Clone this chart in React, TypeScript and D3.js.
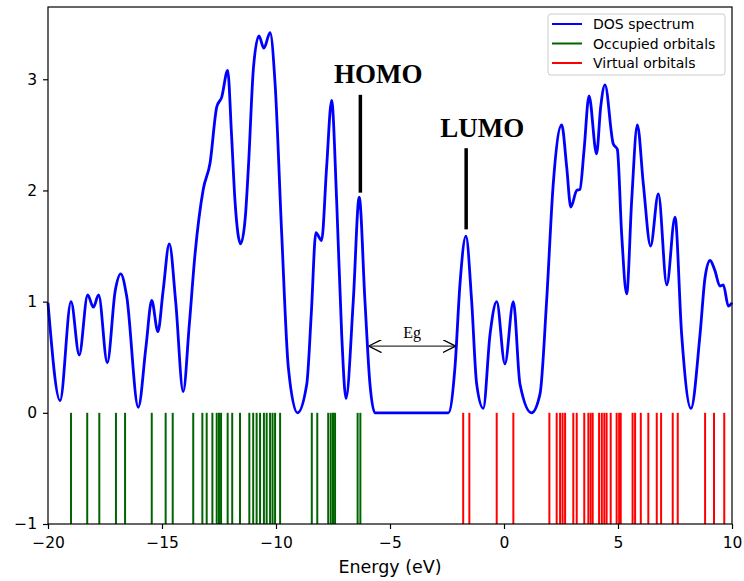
import React, { useEffect, useRef } from "react";
import * as d3 from "d3";

// DOS curve (energy in eV, density)
const dosEnergy = [
  -20, -19.47, -18.99, -18.63, -18.26, -18.01, -17.78, -17.4, -17.05, -16.81, -16.55,
  -16.04, -15.7, -15.45, -15.18, -14.95, -14.68, -14.4, -14.07, -13.8, -13.55, -13.19,
  -12.89, -12.6, -12.38, -12.12, -11.95, -11.8, -11.55, -11.35, -11.21, -10.99, -10.75,
  -10.53, -10.26, -10.04, -9.75, -9.46, -9.06, -8.65, -8.45, -8.25, -8.0, -7.78, -7.56,
  -7.34, -7.12, -6.93, -6.61, -6.35, -6.1, -5.88, -5.66, -5.3, -3.0, -2.44, -2.15, -1.93,
  -1.67, -1.42, -1.2, -0.91, -0.61, -0.32, 0.04, 0.41, 0.7, 1.21, 1.58, 1.87, 2.16, 2.53,
  2.75, 2.93, 3.19, 3.33, 3.51, 3.73, 4.06, 4.24, 4.43, 4.79, 4.97, 5.16, 5.38, 5.6, 5.85,
  6.11, 6.43, 6.77, 7.14, 7.5, 7.79, 8.2, 8.6, 8.82, 9.04, 9.25, 9.47, 9.62, 9.84, 10,
];
const dosValue = [
  0.99, 0.11, 1.0, 0.52, 1.06, 0.95, 1.06, 0.45, 1.1, 1.25, 1.05,
  0.05, 0.6, 1.01, 0.73, 1.1, 1.52, 1.0, 0.19, 0.8, 1.43, 2.01,
  2.25, 2.75, 2.84, 3.08, 2.5, 1.91, 1.52, 1.75, 2.21, 3.1, 3.39,
  3.28, 3.42, 2.96, 1.61, 0.41, 0.0, 0.26, 0.9, 1.62, 1.55, 2.21, 2.81,
  1.91, 0.71, 0.13, 1.01, 1.94, 1.01, 0.26, 0.0, 0.0, 0.0, 0.0, 0.41, 1.16,
  1.59, 1.01, 0.26, 0.04, 0.71, 1.0, 0.44, 1.0, 0.26, 0.0, 0.17, 1.01, 2.06, 2.59,
  2.21, 1.85, 2.0, 2.01, 2.36, 2.85, 2.33, 2.75, 2.95, 2.42, 2.37, 1.61, 1.07, 1.91, 2.59,
  2.06, 1.5, 1.97, 1.15, 1.76, 0.71, 0.04, 0.71, 1.22, 1.37, 1.28, 1.14, 1.15, 0.96, 0.99,
];

const occupied = [
  -18.99, -18.28, -17.75, -17.02, -16.62, -15.45, -14.84, -14.53, -13.63, -13.23, -13.04,
  -12.79, -12.6, -12.5, -12.41, -12.12, -11.92, -11.58, -11.17, -11.0, -10.85, -10.7,
  -10.53, -10.41, -10.26, -10.15, -10.04, -9.82, -8.43, -8.19, -7.71, -7.6, -7.5, -7.41,
  -6.42, -6.3,
];
const virtual = [
  -1.79, -1.52, -0.32, 0.41, 1.99, 2.31, 2.46, 2.57, 2.68, 3.04, 3.19, 3.52, 3.7, 3.8,
  3.89, 4.17, 4.29, 4.4, 4.5, 4.68, 4.94, 5.05, 5.12, 5.64, 5.75, 6.0, 6.33, 6.7, 6.89,
  7.4, 7.62, 8.82, 9.21, 9.66,
];

const xTicks = [-20, -15, -10, -5, 0, 5, 10];
const yTicks = [-1, 0, 1, 2, 3];
const legendItems = [
  { label: "DOS spectrum", color: "#0000ff" },
  { label: "Occupied orbitals", color: "#006400" },
  { label: "Virtual orbitals", color: "#ff0000" },
];

const homo = { energy: -6.3, top: 2.86, bottom: 1.98 };
const lumo = { energy: -1.66, top: 2.38, bottom: 1.65 };
const gap = { from: -5.94, to: -2.12, level: 0.6 };

export default function App() {
  const ref = useRef<SVGSVGElement | null>(null);

  useEffect(() => {
    const svg = d3.select(ref.current);
    svg.selectAll("*").remove();

    const width = 744;
    const height = 581;
    const margin = { top: 7, right: 12, bottom: 57, left: 48 };

    const x = d3.scaleLinear().domain([-20, 10]).range([margin.left, width - margin.right]);
    const y = d3.scaleLinear().domain([-1, 3.65]).range([height - margin.bottom, margin.top]);

    const font = "DejaVu Sans, sans-serif";
    const serif = "Liberation Serif, Times New Roman, serif";

    const defs = svg.append("defs");
    defs
      .append("marker")
      .attr("id", "arrow")
      .attr("viewBox", "0 0 10 10")
      .attr("refX", 10)
      .attr("refY", 5)
      .attr("markerWidth", 13)
      .attr("markerHeight", 13)
      .attr("markerUnits", "userSpaceOnUse")
      .attr("orient", "auto-start-reverse")
      .append("path")
      .attr("d", "M0,0 L10,5 L0,10")
      .attr("fill", "none")
      .attr("stroke", "#000")
      .attr("stroke-width", 1);

    // orbital sticks
    svg
      .append("g")
      .selectAll("line")
      .data(occupied)
      .join("line")
      .attr("x1", (d) => x(d))
      .attr("x2", (d) => x(d))
      .attr("y1", y(0))
      .attr("y2", y(-1))
      .attr("stroke", "#006400")
      .attr("stroke-width", 2);

    svg
      .append("g")
      .selectAll("line")
      .data(virtual)
      .join("line")
      .attr("x1", (d) => x(d))
      .attr("x2", (d) => x(d))
      .attr("y1", y(0))
      .attr("y2", y(-1))
      .attr("stroke", "#ff0000")
      .attr("stroke-width", 2);

    // DOS curve
    const pts = dosEnergy.map((e, i) => [e, dosValue[i]] as [number, number]);
    const line = d3
      .line<[number, number]>()
      .x((d) => x(d[0]))
      .y((d) => y(d[1]))
      .curve(d3.curveMonotoneX);
    svg
      .append("path")
      .datum(pts)
      .attr("d", line)
      .attr("fill", "none")
      .attr("stroke", "#0000ff")
      .attr("stroke-width", 2.8);

    // frame
    svg
      .append("rect")
      .attr("x", margin.left)
      .attr("y", margin.top)
      .attr("width", width - margin.left - margin.right)
      .attr("height", height - margin.top - margin.bottom)
      .attr("fill", "none")
      .attr("stroke", "#000")
      .attr("stroke-width", 1.2);

    // axes
    const xAxis = svg
      .append("g")
      .attr("transform", `translate(0,${height - margin.bottom})`)
      .call(d3.axisBottom(x).tickValues(xTicks).tickSize(5).tickPadding(8).tickFormat(d3.format("")));
    const yAxis = svg
      .append("g")
      .attr("transform", `translate(${margin.left},0)`)
      .call(d3.axisLeft(y).tickValues(yTicks).tickSize(5).tickPadding(6).tickFormat(d3.format("")));
    [xAxis, yAxis].forEach((a) => {
      a.select(".domain").remove();
      a.selectAll("line").attr("stroke", "#000").attr("stroke-width", 1.2);
      a.selectAll("text")
        .attr("fill", "#000")
        .style("font-family", font)
        .style("font-size", "15.5px");
    });

    svg
      .append("text")
      .attr("x", (x(-20) + x(10)) / 2)
      .attr("y", 573)
      .attr("text-anchor", "middle")
      .style("font-family", font)
      .style("font-size", "17.5px")
      .text("Energy (eV)");

    // HOMO / LUMO markers
    svg
      .append("line")
      .attr("x1", x(homo.energy))
      .attr("x2", x(homo.energy))
      .attr("y1", y(homo.top))
      .attr("y2", y(homo.bottom))
      .attr("stroke", "#000")
      .attr("stroke-width", 3.5);
    svg
      .append("text")
      .attr("x", x(homo.energy) + 18)
      .attr("y", 83)
      .attr("text-anchor", "middle")
      .style("font-family", serif)
      .style("font-weight", "bold")
      .style("font-size", "27px")
      .text("HOMO");

    svg
      .append("line")
      .attr("x1", x(lumo.energy))
      .attr("x2", x(lumo.energy))
      .attr("y1", y(lumo.top))
      .attr("y2", y(lumo.bottom))
      .attr("stroke", "#000")
      .attr("stroke-width", 3.5);
    svg
      .append("text")
      .attr("x", x(lumo.energy) + 16)
      .attr("y", 137)
      .attr("text-anchor", "middle")
      .style("font-family", serif)
      .style("font-weight", "bold")
      .style("font-size", "27px")
      .text("LUMO");

    // band gap arrow
    svg
      .append("line")
      .attr("x1", x(gap.from))
      .attr("x2", x(gap.to))
      .attr("y1", y(gap.level))
      .attr("y2", y(gap.level))
      .attr("stroke", "#000")
      .attr("stroke-width", 1)
      .attr("marker-start", "url(#arrow)")
      .attr("marker-end", "url(#arrow)");
    svg
      .append("text")
      .attr("x", (x(gap.from) + x(gap.to)) / 2)
      .attr("y", y(gap.level) - 8)
      .attr("text-anchor", "middle")
      .style("font-family", serif)
      .style("font-size", "16px")
      .text("Eg");

    // legend
    const lg = svg.append("g").attr("transform", "translate(548,14)");
    lg.append("rect")
      .attr("width", 177)
      .attr("height", 61)
      .attr("rx", 3)
      .attr("fill", "#fff")
      .attr("stroke", "#ccc")
      .attr("stroke-width", 1);
    legendItems.forEach((it, i) => {
      const row = lg.append("g").attr("transform", `translate(0,${10 + i * 19.5})`);
      row
        .append("line")
        .attr("x1", 4)
        .attr("x2", 34)
        .attr("stroke", it.color)
        .attr("stroke-width", 2);
      row
        .append("text")
        .attr("x", 45)
        .attr("y", 5)
        .style("font-family", font)
        .style("font-size", "14px")
        .text(it.label);
    });
  }, []);

  return (
    <svg
      ref={ref}
      width={744}
      height={581}
      style={{ position: "absolute", left: 0, top: 0, background: "#fff" }}
    />
  );
}
